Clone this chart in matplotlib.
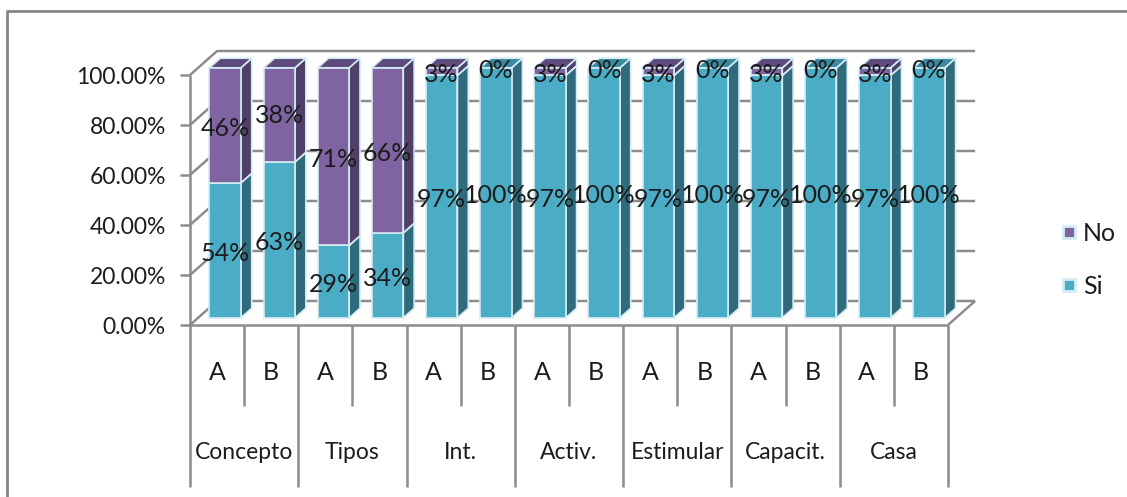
import matplotlib
matplotlib.use("Agg")
import matplotlib.pyplot as plt
from matplotlib.patches import Polygon, Rectangle

plt.rcParams['font.family'] = ['Lato', 'DejaVu Sans']

groups = ['Concepto', 'Tipos', 'Int.', 'Activ.', 'Estimular', 'Capacit.', 'Casa']
subgroups = ['A', 'B']
si_values = [54, 63, 29, 34, 97, 100, 97, 100, 97, 100, 97, 100, 97, 100]
no_values = [46, 38, 71, 66, 3, 0, 3, 0, 3, 0, 3, 0, 3, 0]
y_ticks = [0, 20, 40, 60, 80, 100]
y_tick_labels = ['0.00%', '20.00%', '40.00%', '60.00%', '80.00%', '100.00%']

W, H = 1127, 497
fig = plt.figure(figsize=(W / 100, H / 100), dpi=100, facecolor='white')

x0, x1 = 190, 948
y0, y100 = 325, 75
ax = fig.add_axes([x0 / W, 1 - y0 / H, (x1 - x0) / W, (y0 - y100) / H])
ax.set_xlim(0, 14)
ax.set_ylim(0, 100)
ax.axis('off')

DX, DY = 0.5, 9.6  # oblique depth per unit depth
def P(x, y, d=0.0):
    return (x + d * DX, y + d * DY)

GRID = '#8c8c8c'
TEXT = '#1c1c1c'
LAB_SHIFT = -1.2
kw = dict(color=GRID, lw=1.8, clip_on=False, solid_capstyle='butt')

for t in y_ticks:
    a, b, c = P(0, t), P(0, t, 1), P(14, t, 1)
    ax.plot([a[0], b[0], c[0]], [a[1], b[1], c[1]], zorder=1, **kw)
    ax.plot([-10 / 54.14, 0], [t, t], zorder=1, **kw)
ax.plot([0, 0], [0, 100], zorder=1, **kw)
ax.plot([0, 14], [0, 0], zorder=1, **kw)
a, b = P(14, 0), P(14, 0, 1)
ax.plot([a[0], b[0]], [a[1], b[1]], zorder=1, **kw)

BW, D0, BD = 0.58, 0.3, 0.4
SI = ('#4bacc6', '#2f6b7d', '#3b8ba0')
NO = ('#8064a2', '#503f66', '#5f4a7c')
EDGE = '#d4ecf3'

def box(ctr, lo, hi, cols, z):
    l, r = ctr - BW / 2, ctr + BW / 2
    front = [P(l, lo, D0), P(r, lo, D0), P(r, hi, D0), P(l, hi, D0)]
    side = [P(r, lo, D0), P(r, lo, D0 + BD), P(r, hi, D0 + BD), P(r, hi, D0)]
    top = [P(l, hi, D0), P(r, hi, D0), P(r, hi, D0 + BD), P(l, hi, D0 + BD)]
    for pts, c in ((side, cols[1]), (top, cols[2]), (front, cols[0])):
        ax.add_patch(Polygon(pts, closed=True, fc=c, ec=EDGE, lw=1.2, zorder=z, clip_on=False))

for i, (s, n) in enumerate(zip(si_values, no_values)):
    ctr = i + 0.5
    box(ctr, 0, s * 100 / (s + n), SI, 3)
    if n > 0:
        box(ctr, s * 100 / (s + n), 100, NO, 3)

for i, (s, n) in enumerate(zip(si_values, no_values)):
    ctr = i + 0.5
    lx, ly = P(ctr, s / 2 + LAB_SHIFT, D0)
    ax.text(lx, ly, f'{s}%', ha='center', va='center', fontsize=18, color=TEXT, zorder=5)
    lx, ly = P(ctr, s + n / 2 + LAB_SHIFT, D0)
    ax.text(lx, ly, f'{n}%', ha='center', va='center', fontsize=18, color=TEXT, zorder=5)

for t, lab in zip(y_ticks, y_tick_labels):
    ax.text(-24 / 54.14, t + LAB_SHIFT, lab, ha='right', va='center', fontsize=16.5, color=TEXT, clip_on=False)

y_minor = -81 / 2.5
y_major = -162 / 2.5
for i in range(15):
    bottom = y_major if i % 2 == 0 else y_minor
    ax.plot([i, i], [0, bottom], zorder=1, **kw)
for i in range(14):
    ax.text(i + 0.5, -47 / 2.5, subgroups[i % 2], ha='center', va='center', fontsize=18, color=TEXT, clip_on=False)
for g, name in enumerate(groups):
    ax.text(2 * g + 1, -128 / 2.5, name, ha='center', va='center', fontsize=16.5, color=TEXT, clip_on=False)

for yy, col, lab in ((37.2, NO[0], 'No'), (16, SI[0], 'Si')):
    ax.add_patch(Rectangle((14 + 115 / 54.14, yy - 2.4), 12 / 54.14, 4.8, fc=col, ec=EDGE, lw=2, clip_on=False, zorder=3))
    ax.text(14 + 135 / 54.14, yy - 0.6, lab, ha='left', va='center', fontsize=18, color=TEXT, clip_on=False)

fig.add_artist(plt.Line2D([7 / W, 7 / W, 1], [0, 1 - 11 / H, 1 - 11 / H], color='#858585', lw=2))

fig.savefig('out.png', dpi=100, facecolor='white')
